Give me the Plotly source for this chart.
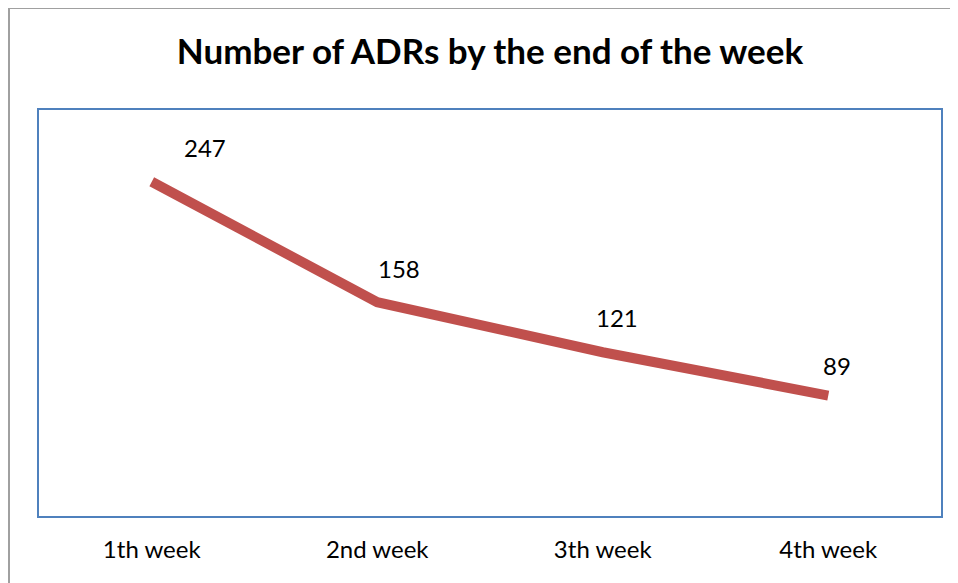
import plotly.graph_objects as go

categories = ["1th week", "2nd week", "3th week", "4th week"]
values = [247, 158, 121, 89]
label_xshift = [53, 22, 14, 9]
label_yshift = [34, 34, 35, 30]

FONT = "Lato, 'Open Sans', sans-serif"

fig = go.Figure()
fig.add_trace(go.Scatter(
    x=categories, y=values, mode="lines",
    line=dict(color="#C0504D", width=10),
    hoverinfo="skip", showlegend=False,
))

for c, v, dx, dy in zip(categories, values, label_xshift, label_yshift):
    fig.add_annotation(x=c, y=v, text=str(v), showarrow=False,
                       xshift=dx, yshift=dy,
                       font=dict(family=FONT, size=24, color="black"))

fig.add_shape(type="rect", xref="paper", yref="paper",
              x0=(1 - 31) / 902, x1=1.2, y0=-0.5, y1=1 + (102 - 0) / 406,
              line=dict(color="#A0A0A0", width=2), fillcolor="rgba(0,0,0,0)", layer="below")

fig.update_layout(
    width=950, height=575,
    margin=dict(l=31, r=17, t=102, b=67),
    paper_bgcolor="white", plot_bgcolor="white",
    title=dict(text="<b>Number of ADRs by the end of the week</b>",
               x=482 / 950, xanchor="center", y=1 - 44 / 575, yanchor="middle",
               font=dict(family=FONT, size=35, color="black")),
    xaxis=dict(type="category", range=[-0.5, 3.5], showgrid=False, zeroline=False,
               showline=True, mirror=True, linecolor="#4F81BD", linewidth=2,
               ticks="outside", ticklen=11, tickcolor="rgba(0,0,0,0)",
               tickfont=dict(family=FONT, size=24, color="black")),
    yaxis=dict(range=[0, 300], showgrid=False, zeroline=False, showticklabels=False,
               showline=True, mirror=True, linecolor="#4F81BD", linewidth=2),
)

fig.write_html("out.html")
